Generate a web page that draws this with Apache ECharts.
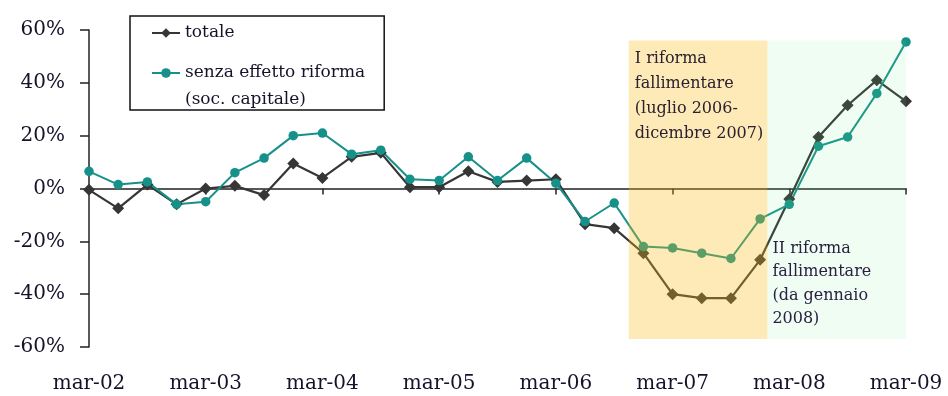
<!DOCTYPE html>
<html>
<head>
<meta charset="utf-8">
<script src="https://cdn.jsdelivr.net/npm/echarts@6/dist/echarts.min.js"></script>
<style>
  html, body { margin: 0; padding: 0; background: #ffffff; }
  #chart { width: 948px; height: 396px; }
</style>
</head>
<body>
<div id="chart"></div>
<script>
// Quarterly periods, March 2002 to March 2009
const quarters = [
  'mar-02', 'giu-02', 'set-02', 'dic-02',
  'mar-03', 'giu-03', 'set-03', 'dic-03',
  'mar-04', 'giu-04', 'set-04', 'dic-04',
  'mar-05', 'giu-05', 'set-05', 'dic-05',
  'mar-06', 'giu-06', 'set-06', 'dic-06',
  'mar-07', 'giu-07', 'set-07', 'dic-07',
  'mar-08', 'giu-08', 'set-08', 'dic-08',
  'mar-09'
];

// Year-on-year change (%)
const totale = [
  -0.5, -7.5, 1.5, -6, 0, 1, -2.5, 9.5,
  4, 12, 13.5, 0.5, 0.5, 6.5, 2.5, 3,
  3.5, -13.5, -15, -24.5, -40, -41.5, -41.5, -27,
  -4, 19.5, 31.5, 41, 33
];
const senzaRiforma = [
  6.5, 1.5, 2.5, -6, -5, 6, 11.5, 20,
  21, 13, 14.5, 3.5, 3, 12, 3, 11.5,
  2, -12.5, -5.5, -22, -22.5, -24.5, -26.5, -11.5,
  -6, 16, 19.5, 36, 55.5
];

const seriesNames = ['totale', 'senza effetto riforma (soc. capitale)'];
const legendLines = {
  'totale': 'totale',
  'senza effetto riforma (soc. capitale)':
    '{sp|\u00a0}\n{t|senza effetto riforma}\n{s|(soc. capitale)}'
};

// Y axis range and step (%)
const yMin = -60, yMax = 60, yStep = 20;

// Reform periods, as positions along the quarter index, and their vertical extent (%)
const riformaI = [18.5, 23.25];
const riformaII = [23.25, 28];
const bandRange = [-57, 56];
const riformaILabel = 'I riforma\nfallimentare\n(luglio 2006-\ndicembre 2007)';
const riformaIILabel = 'II riforma\nfallimentare\n(da gennaio\n2008)';

const serif = 'DejaVu Serif';
const inkText = '#15132a';

const chart = echarts.init(document.getElementById('chart'), null, { renderer: 'canvas' });

chart.setOption({
  animation: false,
  backgroundColor: '#ffffff',
  grid: { left: 89, right: 42, top: 30, bottom: 49, containLabel: false },
  legend: {
    left: 130,
    top: 16,
    orient: 'vertical',
    borderColor: '#111111',
    borderWidth: 1.5,
    padding: [3.5, 19, 0, 21],
    itemGap: -10.5,
    itemWidth: 28,
    itemHeight: 12,
    data: seriesNames,
    formatter: name => legendLines[name],
    textStyle: {
      fontFamily: serif, fontSize: 17, color: inkText, lineHeight: 27,
      rich: {
        sp: { fontFamily: serif, fontSize: 17, color: inkText, lineHeight: 20 },
        t: { fontFamily: serif, fontSize: 17, color: inkText, lineHeight: 34 },
        s: { fontFamily: serif, fontSize: 17, color: inkText, lineHeight: 20 }
      }
    }
  },
  xAxis: [
    {
      // zero line with a tick at each March
      type: 'category',
      data: quarters,
      boundaryGap: false,
      axisLine: { onZero: true, lineStyle: { color: '#222222', width: 1.5 } },
      axisTick: { show: true, interval: 3, length: 6, lineStyle: { color: '#222222', width: 1.5 } },
      axisLabel: { show: false },
      splitLine: { show: false }
    },
    {
      // year labels along the bottom edge
      type: 'category',
      data: quarters,
      boundaryGap: false,
      position: 'bottom',
      axisLine: { show: false, onZero: false },
      axisTick: { show: false },
      axisLabel: {
        interval: 3,
        margin: 27,
        fontFamily: serif,
        fontSize: 20,
        color: inkText
      },
      splitLine: { show: false }
    },
    {
      // continuous quarter index for the shaded reform periods
      type: 'value',
      min: 0,
      max: quarters.length - 1,
      show: false
    }
  ],
  yAxis: {
    type: 'value',
    min: yMin,
    max: yMax,
    interval: yStep,
    axisLine: { show: true, lineStyle: { color: '#222222', width: 1.5 } },
    axisTick: { show: true, length: 9, lineStyle: { color: '#222222', width: 1.5 } },
    axisLabel: {
      margin: 24,
      fontFamily: serif,
      fontSize: 20,
      color: inkText,
      formatter: v => v + '%'
    },
    splitLine: { show: false }
  },
  series: [
    {
      name: seriesNames[0],
      type: 'line',
      data: totale,
      xAxisIndex: 0,
      symbol: 'diamond',
      symbolSize: 12,
      showAllSymbol: true,
      z: 3,
      itemStyle: { color: '#363636' },
      lineStyle: { color: '#363636', width: 2.2 }
    },
    {
      name: seriesNames[1],
      type: 'line',
      data: senzaRiforma,
      xAxisIndex: 0,
      symbol: 'circle',
      symbolSize: 9.5,
      showAllSymbol: true,
      z: 3,
      itemStyle: { color: '#16918a' },
      lineStyle: { color: '#16918a', width: 2 }
    },
    {
      // translucent reform periods laid over the lines
      name: 'periodi',
      type: 'line',
      data: [],
      xAxisIndex: 2,
      z: 5,
      silent: true,
      markArea: {
        silent: true,
        z: 5,
        data: [
          [
            {
              xAxis: riformaI[0], yAxis: bandRange[0],
              itemStyle: { color: 'rgba(250, 186, 18, 0.31)' },
              label: {
                show: true,
                position: 'insideTopLeft',
                distance: 6,
                formatter: riformaILabel,
                fontFamily: serif,
                fontSize: 16,
                lineHeight: 25,
                color: '#2a2032'
              }
            },
            { xAxis: riformaI[1], yAxis: bandRange[1] }
          ],
          [
            {
              xAxis: riformaII[0], yAxis: bandRange[0],
              itemStyle: { color: 'rgba(105, 235, 125, 0.10)' },
              label: {
                show: true,
                position: 'insideBottomLeft',
                distance: 5,
                offset: [0, -3],
                formatter: riformaIILabel,
                fontFamily: serif,
                fontSize: 16,
                lineHeight: 23.5,
                color: '#2a2044'
              }
            },
            { xAxis: riformaII[1], yAxis: bandRange[1] }
          ]
        ]
      }
    }
  ]
});
</script>
</body>
</html>
